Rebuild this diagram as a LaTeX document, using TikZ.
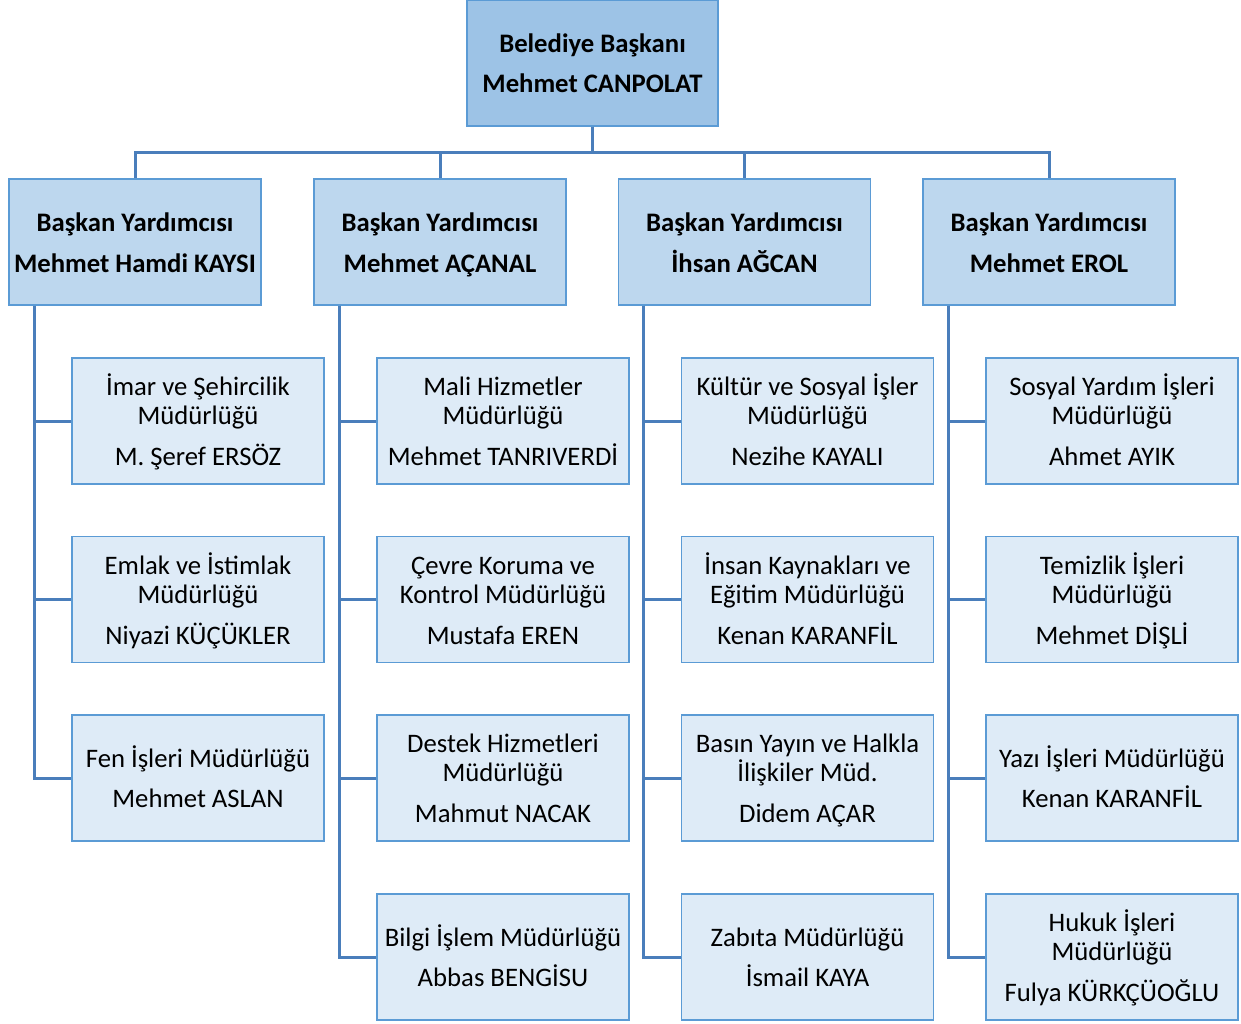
\documentclass[tikz,border=0pt]{standalone}
\usepackage{fontspec}
\setmainfont{Carlito}
\usepackage{tikz}
\definecolor{baskanfill}{HTML}{9DC3E6}
\definecolor{yardfill}{HTML}{BDD7EE}
\definecolor{mudfill}{HTML}{DEEBF7}
\definecolor{kenar}{HTML}{5B9BD5}
\definecolor{hatrenk}{HTML}{4A7EBB}

\begin{document}
\begin{tikzpicture}[x=1pt, y=-1pt,
  kutu/.style={draw=kenar, line width=1.5pt, minimum width=252pt, minimum height=126pt,
    inner sep=0pt, text width=250pt, align=flush center, font=\fontsize{26.7}{29}\selectfont,
    execute at begin node=\rule{0pt}{28pt}, execute at end node=\strut},
  baskanbox/.style={kutu, fill=baskanfill, minimum width=251pt, font=\fontsize{26.7}{29}\selectfont\bfseries},
  yardbox/.style={kutu, fill=yardfill, font=\fontsize{26.7}{29}\selectfont\bfseries},
  mudbox/.style={kutu, fill=mudfill},
  hat/.style={draw=hatrenk, line width=3pt}]

\useasboundingbox (0,0) rectangle (1241,1023);

% baskan
\node[baskanbox] (baskan) at (592.5,63) {Belediye Başkanı\\[11pt]Mehmet CANPOLAT};

% yardimcilar
\node[yardbox] (yard1) at (135,242) {Başkan Yardımcısı\\[12pt]Mehmet Hamdi KAYSI};
\node[yardbox] (yard2) at (440,242) {Başkan Yardımcısı\\[12pt]Mehmet AÇANAL};
\node[yardbox] (yard3) at (744.5,242) {Başkan Yardımcısı\\[12pt]İhsan AĞCAN};
\node[yardbox] (yard4) at (1049,242) {Başkan Yardımcısı\\[12pt]Mehmet EROL};

% mudurlukler
\node[mudbox] (m11) at (198,421) {İmar ve Şehircilik\\Müdürlüğü\\[12pt]M. Şeref ERSÖZ};
\node[mudbox] (m12) at (198,599.5) {Emlak ve İstimlak\\Müdürlüğü\\[12pt]Niyazi KÜÇÜKLER};
\node[mudbox] (m13) at (198,778) {Fen İşleri Müdürlüğü\\[11pt]Mehmet ASLAN};

\node[mudbox] (m21) at (503,421) {Mali Hizmetler\\Müdürlüğü\\[12pt]Mehmet TANRIVERDİ};
\node[mudbox] (m22) at (503,599.5) {Çevre Koruma ve\\Kontrol Müdürlüğü\\[12pt]Mustafa EREN};
\node[mudbox] (m23) at (503,778) {Destek Hizmetleri\\Müdürlüğü\\[12pt]Mahmut NACAK};
\node[mudbox] (m24) at (503,957) {Bilgi İşlem Müdürlüğü\\[11pt]Abbas BENGİSU};

\node[mudbox] (m31) at (807.5,421) {Kültür ve Sosyal İşler\\Müdürlüğü\\[12pt]Nezihe KAYALI};
\node[mudbox] (m32) at (807.5,599.5) {İnsan Kaynakları ve\\Eğitim Müdürlüğü\\[12pt]Kenan KARANFİL};
\node[mudbox] (m33) at (807.5,778) {Basın Yayın ve Halkla\\İlişkiler Müd.\\[12pt]Didem AÇAR};
\node[mudbox] (m34) at (807.5,957) {Zabıta Müdürlüğü\\[11pt]İsmail KAYA};

\node[mudbox] (m41) at (1112,421) {Sosyal Yardım İşleri\\Müdürlüğü\\[12pt]Ahmet AYIK};
\node[mudbox] (m42) at (1112,599.5) {Temizlik İşleri\\Müdürlüğü\\[12pt]Mehmet DİŞLİ};
\node[mudbox] (m43) at (1112,778) {Yazı İşleri Müdürlüğü\\[11pt]Kenan KARANFİL};
\node[mudbox] (m44) at (1112,957) {Hukuk İşleri\\Müdürlüğü\\[12pt]Fulya KÜRKÇÜOĞLU};

% baglantilar
\foreach \i in {1,...,4}
  \draw[hat] (baskan.south) -- ++(0,26) -| (yard\i.north);

\foreach \j in {1,2,3}
  \draw[hat] ([xshift=26pt]yard1.south west) |- (m1\j.west);
\foreach \i in {2,3,4}
  \foreach \j in {1,...,4}
    \draw[hat] ([xshift=26pt]yard\i.south west) |- (m\i\j.west);

\end{tikzpicture}
\end{document}
